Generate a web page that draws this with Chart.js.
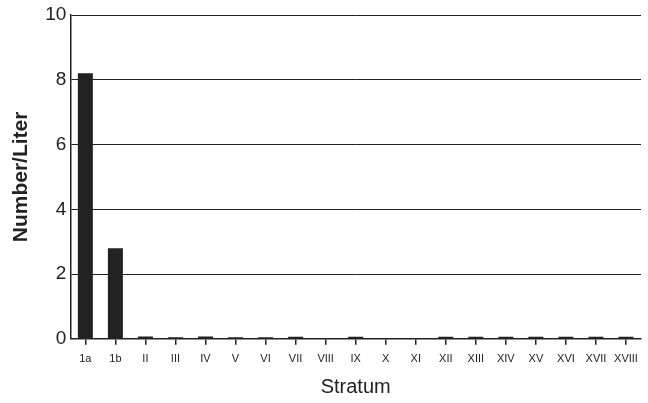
<!DOCTYPE html>
<html lang="en">
<head>
<meta charset="UTF-8">
<script src="https://cdn.jsdelivr.net/npm/chart.js"></script>
<title>Number per liter by stratum</title>
<style>
  body { margin: 0; background: #fff; }
  #wrap { width: 648px; height: 403px; }
</style>
</head>
<body>
<div id="wrap"><canvas id="myChart"></canvas></div>
<script>
const strata = ['1a', '1b', 'II', 'III', 'IV', 'V', 'VI', 'VII', 'VIII', 'IX', 'X', 'XI', 'XII', 'XIII', 'XIV', 'XV', 'XVI', 'XVII', 'XVIII'];
const numberPerLiter = [8.2, 2.8, 0.07, 0.05, 0.07, 0.05, 0.05, 0.06, 0, 0.06, 0, 0, 0.06, 0.06, 0.06, 0.06, 0.06, 0.06, 0.06];
const yTicks = [0, 2, 4, 6, 8, 10];

const ctx = document.getElementById('myChart').getContext('2d');
new Chart(ctx, {
  type: 'bar',
  data: {
    labels: strata,
    datasets: [{
      data: numberPerLiter,
      backgroundColor: '#222',
      barPercentage: 0.5,
      categoryPercentage: 1.0
    }]
  },
  options: {
    responsive: true,
    maintainAspectRatio: false,
    animation: false,
    layout: { padding: { top: 15, right: 7, left: 2, bottom: 4 } },
    plugins: { legend: { display: false }, tooltip: { enabled: false } },
    scales: {
      x: {
        grid: { display: true, drawOnChartArea: false, offset: false, tickLength: 6, color: '#222', lineWidth: 1.5 },
        border: { display: true, color: '#222', width: 1.5 },
        ticks: { color: '#222', font: { family: 'Liberation Sans', size: 11 }, maxRotation: 0, autoSkip: false, padding: 8 },
        title: { display: true, text: 'Stratum', color: '#222', font: { family: 'Liberation Sans', size: 20 }, padding: { top: 1, bottom: 0 } }
      },
      y: {
        min: 0, max: 10,
        afterBuildTicks: axis => { axis.ticks = yTicks.map(v => ({ value: v })); },
        grid: { color: ctx => ctx.tick.value === 0 ? 'rgba(0,0,0,0)' : '#222', lineWidth: 1, drawTicks: false },
        border: { display: true, color: '#222', width: 1.5 },
        ticks: { color: '#222', font: { family: 'Liberation Sans', size: 19, lineHeight: 0.4 }, padding: 4 },
        title: { display: true, text: 'Number/Liter', color: '#222', font: { family: 'Liberation Sans', size: 21, weight: 'bold' }, padding: { top: 7, bottom: 7 } }
      }
    }
  }
});
</script>
</body>
</html>
